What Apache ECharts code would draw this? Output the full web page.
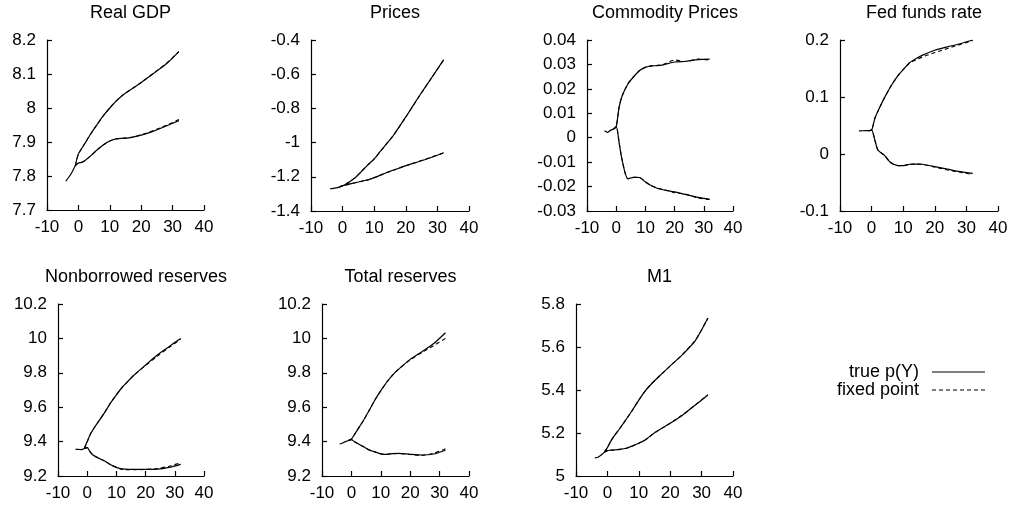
<!DOCTYPE html>
<html>
<head>
<meta charset="utf-8">
<script src="https://cdn.jsdelivr.net/npm/echarts@6/dist/echarts.min.js"></script>
<style>
html,body{margin:0;padding:0;background:#fff;}
#chart{width:1014px;height:510px;}
</style>
</head>
<body>
<div id="chart"></div>
<script>
// ---- data ----
const PRE_X = [-4, -3, -2, -1];
const POST_X = [-1, 0, 1, 2, 4, 6, 8, 10, 12, 14, 16, 20, 24, 28, 32];

const titles = ["Real GDP", "Prices", "Commodity Prices", "Fed funds rate",
                "Nonborrowed reserves", "Total reserves", "M1"];

// Real GDP
const gdpPre      = [7.785, 7.797, 7.812, 7.83];
const gdpUpTrue   = [7.83, 7.865, 7.88, 7.895, 7.925, 7.952, 7.978, 8.0, 8.02, 8.037, 8.05, 8.075, 8.102, 8.13, 8.166];
const gdpLoTrue   = [7.83, 7.838, 7.84, 7.845, 7.86, 7.877, 7.892, 7.903, 7.909, 7.911, 7.912, 7.92, 7.932, 7.947, 7.963];
const gdpUpFixed  = [7.83, 7.865, 7.88, 7.895, 7.925, 7.952, 7.978, 8.0, 8.02, 8.037, 8.05, 8.075, 8.103, 8.131, 8.166];
const gdpLoFixed  = [7.83, 7.838, 7.84, 7.845, 7.86, 7.877, 7.892, 7.903, 7.909, 7.911, 7.912, 7.921, 7.934, 7.949, 7.966];

// Prices
const prcPre      = [-1.27, -1.268, -1.265, -1.26];
const prcUpTrue   = [-1.26, -1.252, -1.243, -1.232, -1.205, -1.168, -1.13, -1.095, -1.05, -1.005, -0.96, -0.85, -0.735, -0.625, -0.515];
const prcLoTrue   = [-1.26, -1.252, -1.248, -1.243, -1.235, -1.226, -1.218, -1.205, -1.19, -1.175, -1.162, -1.135, -1.112, -1.087, -1.059];
const prcUpFixed  = [-1.26, -1.252, -1.243, -1.232, -1.205, -1.168, -1.13, -1.095, -1.05, -1.005, -0.96, -0.851, -0.736, -0.626, -0.517];
const prcLoFixed  = [-1.26, -1.252, -1.248, -1.243, -1.235, -1.226, -1.218, -1.205, -1.19, -1.175, -1.162, -1.135, -1.111, -1.086, -1.06];

// Commodity prices
const comPre      = [0.0028, 0.0022, 0.003, 0.0035];
const comUpTrue   = [0.0035, 0.0045, 0.0125, 0.017, 0.022, 0.025, 0.0275, 0.0288, 0.0294, 0.0295, 0.0298, 0.031, 0.0313, 0.032, 0.0322];
const comLoTrue   = [0.0035, 0.0045, -0.002, -0.009, -0.0168, -0.0162, -0.0163, -0.0181, -0.0196, -0.0207, -0.0213, -0.0222, -0.0233, -0.0244, -0.0252];
const comUpFixed  = [0.0035, 0.0045, 0.0125, 0.017, 0.022, 0.025, 0.0275, 0.0288, 0.0294, 0.0296, 0.0299, 0.0318, 0.0312, 0.0322, 0.0318];
const comLoFixed  = [0.0035, 0.0045, -0.002, -0.009, -0.0168, -0.0162, -0.0163, -0.0181, -0.0196, -0.0206, -0.0211, -0.0225, -0.0232, -0.0247, -0.0253];

// Fed funds rate
const ffrPre      = [0.0405, 0.0408, 0.041, 0.041];
const ffrUpTrue   = [0.041, 0.042, 0.062, 0.075, 0.098, 0.118, 0.135, 0.148, 0.16, 0.167, 0.173, 0.182, 0.188, 0.1935, 0.2];
const ffrLoTrue   = [0.041, 0.042, 0.025, 0.007, -0.002, -0.015, -0.02, -0.0205, -0.018, -0.0176, -0.018, -0.022, -0.0265, -0.031, -0.034];
const ffrUpFixed  = [0.041, 0.042, 0.062, 0.075, 0.098, 0.118, 0.135, 0.148, 0.159, 0.165, 0.17, 0.178, 0.185, 0.192, 0.199];
const ffrLoFixed  = [0.041, 0.042, 0.025, 0.007, -0.002, -0.015, -0.02, -0.0205, -0.018, -0.0178, -0.0182, -0.023, -0.028, -0.032, -0.036];

// Nonborrowed reserves
const nbrPre      = [9.355, 9.355, 9.353, 9.36];
const nbrUpTrue   = [9.36, 9.4, 9.44, 9.47, 9.52, 9.57, 9.625, 9.672, 9.716, 9.752, 9.786, 9.845, 9.903, 9.952, 10.0];
const nbrLoTrue   = [9.36, 9.365, 9.34, 9.322, 9.303, 9.287, 9.265, 9.25, 9.241, 9.239, 9.239, 9.239, 9.24, 9.25, 9.268];
const nbrUpFixed  = [9.36, 9.4, 9.44, 9.47, 9.52, 9.57, 9.625, 9.672, 9.716, 9.752, 9.786, 9.843, 9.896, 9.947, 9.995];
const nbrLoFixed  = [9.36, 9.365, 9.34, 9.322, 9.303, 9.287, 9.265, 9.25, 9.238, 9.237, 9.236, 9.238, 9.243, 9.257, 9.277];

// Total reserves
const trPre       = [9.386, 9.392, 9.4, 9.406];
const trUpTrue    = [9.406, 9.415, 9.44, 9.467, 9.52, 9.58, 9.642, 9.696, 9.745, 9.787, 9.82, 9.878, 9.923, 9.97, 10.033];
const trLoTrue    = [9.406, 9.412, 9.4, 9.39, 9.371, 9.352, 9.34, 9.329, 9.326, 9.33, 9.332, 9.326, 9.322, 9.328, 9.35];
const trUpFixed   = [9.406, 9.415, 9.44, 9.467, 9.52, 9.58, 9.642, 9.696, 9.745, 9.787, 9.82, 9.875, 9.918, 9.958, 10.0];
const trLoFixed   = [9.406, 9.412, 9.4, 9.39, 9.371, 9.352, 9.34, 9.329, 9.326, 9.33, 9.331, 9.325, 9.32, 9.332, 9.358];

// M1
const m1Pre       = [5.084, 5.087, 5.098, 5.11];
const m1UpTrue    = [5.11, 5.132, 5.16, 5.183, 5.222, 5.264, 5.307, 5.353, 5.395, 5.428, 5.457, 5.512, 5.566, 5.63, 5.735];
const m1LoTrue    = [5.11, 5.118, 5.12, 5.121, 5.124, 5.129, 5.14, 5.152, 5.167, 5.19, 5.21, 5.245, 5.284, 5.33, 5.377];
const m1UpFixed   = [5.11, 5.132, 5.16, 5.183, 5.222, 5.264, 5.307, 5.353, 5.395, 5.428, 5.457, 5.512, 5.567, 5.632, 5.733];
const m1LoFixed   = [5.11, 5.118, 5.12, 5.121, 5.124, 5.129, 5.14, 5.152, 5.167, 5.19, 5.21, 5.246, 5.285, 5.331, 5.378];

const panelData = [
  [gdpPre, gdpUpTrue, gdpLoTrue, gdpUpFixed, gdpLoFixed],
  [prcPre, prcUpTrue, prcLoTrue, prcUpFixed, prcLoFixed],
  [comPre, comUpTrue, comLoTrue, comUpFixed, comLoFixed],
  [ffrPre, ffrUpTrue, ffrLoTrue, ffrUpFixed, ffrLoFixed],
  [nbrPre, nbrUpTrue, nbrLoTrue, nbrUpFixed, nbrLoFixed],
  [trPre, trUpTrue, trLoTrue, trUpFixed, trLoFixed],
  [m1Pre, m1UpTrue, m1LoTrue, m1UpFixed, m1LoFixed]
];

// y-axis ranges (tick labels)
const yMin = [7.7, -1.4, -0.03, -0.1, 9.2, 9.2, 5];
const yMax = [8.2, -0.4, 0.04, 0.2, 10.2, 10.2, 5.8];
const yStep = [0.1, 0.2, 0.01, 0.1, 0.2, 0.2, 0.2];
const xMin = -10, xMax = 40, xStep = 10;

const legendLabels = ["true p(Y)", "fixed point"];

// ---- layout ----
const boxes = [
  {left: 47, top: 40, width: 157, height: 170},
  {left: 311, top: 40, width: 158, height: 171},
  {left: 587, top: 40, width: 146, height: 171},
  {left: 840, top: 40, width: 158, height: 171},
  {left: 58, top: 304, width: 146, height: 172},
  {left: 322, top: 304, width: 147, height: 172},
  {left: 576, top: 304, width: 157, height: 172}
];
const FONT = "'Liberation Sans', Arial, Helvetica, sans-serif";

const grid = [], xAxis = [], yAxis = [], series = [], title = [];
const zip = (xs, ys) => xs.map((x, i) => [x, ys[i]]);

boxes.forEach((b, i) => {
  grid.push({left: b.left, top: b.top, width: b.width, height: b.height, containLabel: false});
  title.push({
    text: titles[i], left: b.left + b.width / 2, top: (i < 4 ? -1 : 263), textAlign: 'center',
    textStyle: {fontFamily: FONT, fontSize: 18, fontWeight: 'normal', color: '#000'}
  });
  const axisCommon = {
    axisLine: {show: true, onZero: false, lineStyle: {color: '#000', width: 1.2}},
    axisTick: {show: true, inside: true, length: 5, lineStyle: {color: '#000', width: 1.2}},
    splitLine: {show: false},
    axisLabel: {color: '#000', fontFamily: FONT, fontSize: 17}
  };
  xAxis.push(Object.assign({}, axisCommon, {
    gridIndex: i, type: 'value', min: xMin, max: xMax, interval: xStep,
    axisLabel: Object.assign({}, axisCommon.axisLabel, {margin: 9})
  }));
  yAxis.push(Object.assign({}, axisCommon, {
    gridIndex: i, type: 'value', min: yMin[i], max: yMax[i], interval: yStep[i],
    axisLabel: Object.assign({}, axisCommon.axisLabel, {margin: 11})
  }));
  const d = panelData[i];
  const solid = {color: '#000', width: 1.2, type: 'solid'};
  const dashed = {color: '#000', width: 1.1, type: [4, 3]};
  const common = {type: 'line', xAxisIndex: i, yAxisIndex: i, showSymbol: false, symbol: 'none',
                  smooth: 0.25, silent: true, animation: false};
  series.push(Object.assign({}, common, {name: legendLabels[0], data: zip(PRE_X, d[0]), lineStyle: solid}));
  series.push(Object.assign({}, common, {name: legendLabels[0], data: zip(POST_X, d[1]), lineStyle: solid}));
  series.push(Object.assign({}, common, {name: legendLabels[0], data: zip(POST_X, d[2]), lineStyle: solid}));
  series.push(Object.assign({}, common, {name: legendLabels[1], data: zip(POST_X, d[3]), lineStyle: dashed}));
  series.push(Object.assign({}, common, {name: legendLabels[1], data: zip(POST_X, d[4]), lineStyle: dashed}));
});

const chart = echarts.init(document.getElementById('chart'), null, {renderer: 'canvas'});
chart.setOption({
  backgroundColor: '#fff',
  animation: false,
  title: title,
  grid: grid,
  xAxis: xAxis,
  yAxis: yAxis,
  series: series,
  graphic: [
    {type: 'text', x: 919, y: 372, style: {text: legendLabels[0], x: 0, y: 0, textAlign: 'right', textVerticalAlign: 'middle', font: "18px 'Liberation Sans', Arial, sans-serif", fill: '#000'}},
    {type: 'text', x: 919, y: 390, style: {text: legendLabels[1], x: 0, y: 0, textAlign: 'right', textVerticalAlign: 'middle', font: "18px 'Liberation Sans', Arial, sans-serif", fill: '#000'}},
    {type: 'line', shape: {x1: 932, y1: 372, x2: 985, y2: 372}, style: {stroke: '#000', lineWidth: 1.2}},
    {type: 'line', shape: {x1: 932, y1: 390, x2: 985, y2: 390}, style: {stroke: '#000', lineWidth: 1.1, lineDash: [4, 3]}}
  ]
});
</script>
</body>
</html>
